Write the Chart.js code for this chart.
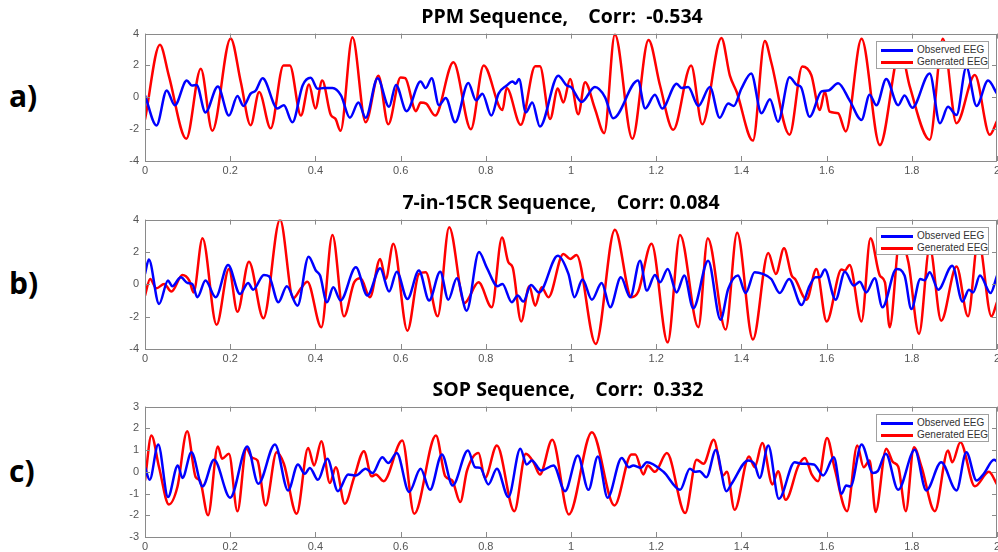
<!DOCTYPE html>
<html>
<head>
<meta charset="utf-8">
<script src="https://cdn.jsdelivr.net/npm/chart.js@4.4.0/dist/chart.umd.min.js"></script>
<style>
  html, body { margin: 0; padding: 0; background: #fff; width: 998px; height: 552px; overflow: hidden; position: relative; }
  canvas { position: absolute; left: 100px; }
  .title { position: absolute; width: 400px; text-align: center; white-space: pre; font-family: "Open Sans", sans-serif; font-weight: bold; font-size: 19.5px; color: #000; line-height: 22px; }
  .panel { position: absolute; left: 9px; font-family: "Open Sans", sans-serif; font-weight: bold; font-size: 30px; line-height: 32px; color: #000; }
  .legend { position: absolute; left: 876px; width: 111px; height: 26px; background: #fff; border: 1px solid #a0a0a0; font-family: "Liberation Sans", Arial, sans-serif; font-size: 10px; color: #333; }
  .legend .row { position: absolute; left: 0; height: 12px; line-height: 12px; white-space: nowrap; }
  .legend .swatch { position: absolute; left: 4px; top: 5px; width: 32px; height: 3px; }
  .legend .txt { position: absolute; left: 40px; top: 0; }
</style>
</head>
<body>
<canvas id="ppm" width="930" height="160" style="top:21px"></canvas>
<canvas id="seven" width="930" height="162" style="top:207px"></canvas>
<canvas id="sop" width="930" height="163" style="top:394px"></canvas>
<script>
// x: seconds, y: amplitude; turning points of each trace
const ppmObserved = [[0,0.12],[0.027,-1.77],[0.051,0.43],[0.07,-0.5],[0.098,1.05],[0.11,0.74],[0.121,0.78],[0.142,-0.95],[0.171,0.68],[0.197,-1.15],[0.217,0.08],[0.231,-0.54],[0.248,0.23],[0.26,0.43],[0.276,1.2],[0.311,-0.7],[0.326,-0.5],[0.346,-1.57],[0.37,0.74],[0.389,1.22],[0.405,0.54],[0.42,0.58],[0.44,0.58],[0.46,0.12],[0.481,-1.28],[0.501,-0.33],[0.518,-1.28],[0.546,1.2],[0.573,-0.6],[0.589,0.78],[0.614,-0.87],[0.647,0.99],[0.659,0.58],[0.673,1.2],[0.69,-0.5],[0.706,-0.04],[0.728,-1.57],[0.759,0.9],[0.777,-0.19],[0.792,0.23],[0.813,-1.15],[0.83,0.23],[0.849,0.74],[0.863,0.99],[0.87,0.85],[0.878,1.15],[0.894,-0.95],[0.909,-0.33],[0.927,-1.84],[0.97,1.36],[0.99,0.74],[1.0,0.64],[1.025,-0.29],[1.056,0.64],[1.08,0.0],[1.099,-1.32],[1.157,1.05],[1.174,-0.7],[1.197,0.16],[1.214,-0.7],[1.248,0.85],[1.26,0.58],[1.275,0.64],[1.299,-0.54],[1.326,0.64],[1.349,-1.28],[1.369,-0.39],[1.382,-0.54],[1.4,0.54],[1.423,1.5],[1.447,-1.0],[1.467,-0.12],[1.486,-1.53],[1.513,1.26],[1.53,0.78],[1.54,0.64],[1.56,-1.22],[1.588,0.37],[1.604,0.43],[1.627,0.89],[1.654,-0.19],[1.682,-1.42],[1.701,0.16],[1.717,-0.5],[1.74,1.15],[1.768,-0.5],[1.783,0.12],[1.801,-0.66],[1.842,1.5],[1.866,-1.63],[1.885,-0.6],[1.905,-1.11],[1.928,1.88],[1.952,-0.54],[1.979,1.05],[2.0,0.23]];
const ppmGenerated = [[0,-1.4],[0.035,3.3],[0.056,1.35],[0.097,-2.6],[0.131,1.8],[0.158,-2.1],[0.201,3.7],[0.225,0.95],[0.248,-1.75],[0.268,0.33],[0.295,-1.95],[0.325,2.0],[0.34,2.0],[0.366,-1.15],[0.385,0.8],[0.4,-0.7],[0.416,1.05],[0.436,-1.1],[0.447,-1.35],[0.459,-2.1],[0.487,3.77],[0.518,-1.57],[0.548,1.36],[0.571,-1.7],[0.6,1.25],[0.611,1.2],[0.636,-0.87],[0.647,-0.33],[0.66,-0.4],[0.681,-1.15],[0.724,2.2],[0.765,-2.0],[0.795,2.0],[0.839,-0.8],[0.849,0.58],[0.882,-1.73],[0.916,1.95],[0.927,1.95],[0.951,-1.36],[0.969,0.55],[0.982,-0.33],[0.998,1.15],[1.017,-1.07],[1.033,0.95],[1.056,-0.7],[1.078,-2.25],[1.103,3.94],[1.144,-2.6],[1.182,3.6],[1.209,0.74],[1.24,-2.04],[1.282,2.0],[1.308,-1.7],[1.353,3.73],[1.373,1.36],[1.389,0.33],[1.427,-2.72],[1.455,3.53],[1.47,2.2],[1.513,-2.35],[1.543,1.94],[1.564,1.4],[1.584,-0.8],[1.596,0.37],[1.607,-0.9],[1.627,-1.0],[1.645,-2.14],[1.682,3.67],[1.725,-3.0],[1.773,3.0],[1.795,0.7],[1.842,-2.66],[1.873,3.67],[1.905,-1.63],[1.948,1.4],[1.983,-2.35],[2.0,-1.5]];

const sevenObserved = [[0,0.64],[0.009,1.53],[0.033,-1.22],[0.054,0.23],[0.064,-0.12],[0.084,0.43],[0.1,0.08],[0.111,0.02],[0.123,-0.8],[0.142,0.23],[0.166,-0.8],[0.195,1.2],[0.223,-0.6],[0.242,0.08],[0.254,-0.33],[0.279,0.58],[0.291,0.5],[0.313,-1.11],[0.333,-0.12],[0.358,-1.32],[0.384,1.71],[0.401,0.85],[0.411,0.54],[0.427,-1.11],[0.442,-0.19],[0.459,-1.0],[0.495,1.05],[0.522,-0.7],[0.552,0.99],[0.573,-0.45],[0.591,0.78],[0.616,-0.91],[0.643,0.85],[0.667,-1.0],[0.693,0.78],[0.712,-0.95],[0.732,0.37],[0.755,-1.63],[0.784,2.0],[0.802,1.05],[0.828,-0.12],[0.839,0.02],[0.861,-1.11],[0.875,-0.7],[0.888,-1.07],[0.906,-0.04],[0.925,-0.5],[0.969,1.77],[0.994,0.64],[1.008,-0.8],[1.027,0.29],[1.049,-0.95],[1.072,0.08],[1.092,-1.42],[1.117,0.43],[1.139,-0.8],[1.162,1.46],[1.178,-0.39],[1.197,0.58],[1.209,0.12],[1.227,0.95],[1.248,-0.5],[1.266,0.54],[1.287,-1.48],[1.322,1.46],[1.351,-2.19],[1.369,-0.29],[1.392,0.54],[1.41,-0.54],[1.431,0.74],[1.45,0.64],[1.47,0.33],[1.49,-0.54],[1.512,0.33],[1.541,-1.28],[1.56,-0.1],[1.574,0.43],[1.584,0.43],[1.596,0.91],[1.621,-0.95],[1.643,0.78],[1.664,-0.08],[1.678,0.16],[1.693,-0.5],[1.713,0.37],[1.731,-1.42],[1.764,0.95],[1.783,0.54],[1.799,-1.53],[1.82,0.33],[1.83,0.25],[1.842,0.74],[1.862,-0.33],[1.895,1.15],[1.919,-1.07],[1.934,-0.33],[1.944,-0.5],[1.96,0.54],[1.985,-0.54],[2.0,0.54]];
const sevenGenerated = [[0,-0.7],[0.012,0.33],[0.027,-0.25],[0.045,0.02],[0.062,-0.45],[0.088,0.58],[0.104,0.23],[0.114,-0.5],[0.135,2.85],[0.168,-2.5],[0.197,0.95],[0.217,-1.7],[0.244,1.4],[0.278,-2.1],[0.317,4.0],[0.348,-0.87],[0.366,-0.25],[0.381,0.16],[0.414,-2.66],[0.44,3.05],[0.467,-1.98],[0.491,0.12],[0.506,0.37],[0.528,-0.8],[0.552,1.57],[0.565,0.33],[0.583,2.5],[0.616,-2.87],[0.643,0.64],[0.659,0.74],[0.687,-1.98],[0.714,3.53],[0.75,-1.15],[0.783,0.12],[0.814,-1.42],[0.838,2.9],[0.853,1.36],[0.863,1.05],[0.883,-2.3],[0.902,-0.12],[0.916,-1.32],[0.931,-0.19],[0.947,-0.8],[0.982,1.88],[0.998,1.57],[1.013,1.81],[1.058,-3.69],[1.103,3.38],[1.142,-0.8],[1.158,-0.45],[1.189,2.5],[1.227,-3.59],[1.256,3.05],[1.299,-2.66],[1.321,2.85],[1.363,-2.8],[1.39,3.18],[1.427,-3.42],[1.463,1.94],[1.481,0.64],[1.5,2.23],[1.518,0.54],[1.526,0.33],[1.553,-0.95],[1.576,0.95],[1.6,-2.3],[1.635,0.91],[1.643,0.85],[1.654,1.2],[1.682,-2.3],[1.703,2.85],[1.725,0.54],[1.737,0.12],[1.748,-2.66],[1.772,2.8],[1.792,1.36],[1.817,-3.07],[1.842,2.29],[1.869,-2.25],[1.905,1.1],[1.932,-1.98],[1.956,2.8],[1.987,-1.98],[2.0,-1.1]];

const sopObserved = [[0,0.21],[0.011,-0.37],[0.031,1.26],[0.054,-1.16],[0.077,0.29],[0.088,-0.28],[0.109,0.9],[0.135,-0.67],[0.162,0.55],[0.2,-1.19],[0.24,1.16],[0.266,-0.55],[0.305,1.26],[0.336,-0.86],[0.359,0.34],[0.375,-0.09],[0.387,0.18],[0.406,-0.37],[0.428,0.6],[0.453,-0.89],[0.477,-0.12],[0.495,-0.17],[0.518,0.14],[0.534,-0.06],[0.557,0.67],[0.571,0.4],[0.591,0.86],[0.62,-0.93],[0.647,0.14],[0.669,-0.83],[0.697,0.8],[0.722,-0.63],[0.758,0.98],[0.775,0.21],[0.787,0.18],[0.806,-0.58],[0.826,0.14],[0.853,-1.16],[0.881,1.06],[0.896,0.34],[0.908,0.52],[0.93,0.06],[0.959,0.29],[0.986,-0.89],[1.016,0.75],[1.041,-0.83],[1.063,0.7],[1.086,-1.19],[1.119,0.64],[1.136,0.21],[1.146,0.29],[1.164,0.18],[1.178,0.44],[1.217,0.0],[1.256,-0.83],[1.279,0.14],[1.291,0.0],[1.302,0.03],[1.318,-0.25],[1.34,1.0],[1.365,-0.89],[1.377,-0.55],[1.416,0.52],[1.431,0.34],[1.443,-0.28],[1.463,1.21],[1.488,-1.24],[1.525,0.44],[1.541,0.37],[1.57,0.34],[1.592,-0.17],[1.617,0.67],[1.635,-1.01],[1.646,-0.63],[1.656,-0.68],[1.682,1.26],[1.709,-0.06],[1.72,0.03],[1.739,0.83],[1.768,-0.83],[1.807,1.01],[1.834,-0.86],[1.869,0.44],[1.905,-0.86],[1.928,0.9],[1.952,-0.4],[1.968,-0.12],[1.993,0.55],[2.0,0.48]];
const sopGenerated = [[0,-0.4],[0.015,1.67],[0.033,0.21],[0.056,-1.5],[0.076,-0.7],[0.099,1.87],[0.119,-0.25],[0.129,-0.4],[0.148,-2.0],[0.171,1.16],[0.181,0.6],[0.197,0.83],[0.217,-1.82],[0.238,1.06],[0.252,0.64],[0.264,0.52],[0.283,-1.55],[0.309,0.9],[0.326,0.37],[0.356,-1.93],[0.383,1.1],[0.397,0.29],[0.414,1.41],[0.434,-0.52],[0.448,0.21],[0.469,-1.47],[0.491,-0.25],[0.514,0.95],[0.532,-0.21],[0.542,-0.12],[0.56,-0.43],[0.604,1.44],[0.632,-1.93],[0.683,1.67],[0.705,-0.21],[0.721,-0.4],[0.74,-1.39],[0.756,0.06],[0.783,0.86],[0.798,-0.28],[0.826,1.21],[0.867,-1.81],[0.894,0.83],[0.912,0.44],[0.927,-0.12],[0.956,1.47],[0.995,-1.96],[1.049,1.82],[1.102,-1.55],[1.142,0.8],[1.151,0.8],[1.17,-0.12],[1.18,0.29],[1.197,0.0],[1.225,0.86],[1.268,-1.9],[1.295,0.55],[1.311,0.37],[1.335,1.47],[1.357,-0.17],[1.366,0.0],[1.384,-1.75],[1.418,0.7],[1.431,0.21],[1.449,1.32],[1.473,-0.58],[1.486,0.03],[1.504,-1.29],[1.534,0.29],[1.549,0.64],[1.565,-0.12],[1.58,-0.43],[1.601,1.56],[1.619,0.14],[1.648,-1.81],[1.672,1.21],[1.687,0.21],[1.701,0.52],[1.715,-1.85],[1.74,1.06],[1.756,0.44],[1.768,0.24],[1.786,-1.81],[1.805,1.13],[1.823,0.21],[1.854,-1.81],[1.885,0.98],[1.895,0.44],[1.914,1.36],[1.948,-0.67],[1.981,0.0],[2.0,-0.58]];

const seriesNames = ['Observed EEG', 'Generated EEG'];
const seriesColors = ['#0000ff', '#ff0000'];
const panelLetters = ['a)', 'b)', 'c)'];
const panelTitles = ['PPM Sequence,    Corr:  -0.534', '7-in-15CR Sequence,    Corr: 0.084', 'SOP Sequence,    Corr:  0.332'];

const AXIS_GRAY = '#8a8a8a';
const TICK_LEN = 5;

// MATLAB-like axes: full box with tick marks pointing inwards on all four sides
const boxAxes = {
    id: 'boxAxes',
    afterDatasetsDraw(chart) {
        const { ctx, chartArea: a, scales } = chart;
        ctx.save();
        ctx.strokeStyle = AXIS_GRAY;
        ctx.lineWidth = 1;
        ctx.beginPath();
        scales.x.ticks.forEach((t) => {
            const px = Math.round(scales.x.getPixelForValue(t.value)) + 0.5;
            ctx.moveTo(px, a.bottom); ctx.lineTo(px, a.bottom - TICK_LEN);
            ctx.moveTo(px, a.top); ctx.lineTo(px, a.top + TICK_LEN);
        });
        scales.y.ticks.forEach((t) => {
            const py = Math.round(scales.y.getPixelForValue(t.value)) + 0.5;
            ctx.moveTo(a.left, py); ctx.lineTo(a.left + TICK_LEN, py);
            ctx.moveTo(a.right, py); ctx.lineTo(a.right - TICK_LEN, py);
        });
        ctx.stroke();
        ctx.strokeRect(Math.round(a.left) + 0.5, Math.round(a.top) + 0.5,
            Math.round(a.right - a.left) - 1, Math.round(a.bottom - a.top));
        ctx.restore();
    },
};

function toPoints(pairs) {
    return pairs.map(([x, y]) => ({ x, y }));
}

function createEegChart(canvasId, observed, generated, yLim, yStep) {
    const tickFont = { family: '"Liberation Sans", Arial, sans-serif', size: 11 };
    return new Chart(document.getElementById(canvasId), {
        type: 'line',
        data: {
            datasets: [observed, generated].map((pairs, i) => ({
                label: seriesNames[i],
                data: toPoints(pairs),
                borderColor: seriesColors[i],
                backgroundColor: seriesColors[i],
                borderWidth: 2.5,
                pointRadius: 0,
                cubicInterpolationMode: 'monotone',
                fill: false,
            })),
        },
        options: {
            responsive: false,
            animation: false,
            events: [],
            layout: { padding: { top: 12, right: 33, left: 0, bottom: 0 } },
            scales: {
                x: {
                    type: 'linear',
                    min: 0,
                    max: 2,
                    grid: { display: false, drawTicks: false },
                    border: { display: false },
                    ticks: {
                        stepSize: 0.2,
                        padding: 3,
                        color: '#555',
                        font: tickFont,
                        maxRotation: 0,
                        callback: (v) => String(Number(v.toFixed(1))),
                    },
                    afterFit: (s) => { s.height = 20; },
                },
                y: {
                    min: -yLim,
                    max: yLim,
                    grid: { display: false, drawTicks: false },
                    border: { display: false },
                    ticks: { stepSize: yStep, padding: 6, color: '#555', font: tickFont },
                    afterFit: (s) => { s.width = 45; },
                },
            },
            plugins: {
                legend: { display: false },
                tooltip: { enabled: false },
            },
        },
        plugins: [boxAxes],
    });
}

const charts = [
    createEegChart('ppm', ppmObserved, ppmGenerated, 4, 2),
    createEegChart('seven', sevenObserved, sevenGenerated, 4, 2),
    createEegChart('sop', sopObserved, sopGenerated, 3, 1),
];

// titles, panel letters and boxed legends laid over each plot
const titleCenters = [562, 561, 568];
charts.forEach((chart, i) => {
    const canvasTop = chart.canvas.offsetTop;
    const area = chart.chartArea;

    const title = document.createElement('div');
    title.className = 'title';
    title.textContent = panelTitles[i];
    title.style.left = (titleCenters[i] - 200) + 'px';
    title.style.top = (canvasTop + area.top - 29) + 'px';
    document.body.appendChild(title);

    const letter = document.createElement('div');
    letter.className = 'panel';
    letter.textContent = panelLetters[i];
    letter.style.top = (canvasTop + (area.top + area.bottom) / 2 - 17) + 'px';
    document.body.appendChild(letter);

    const legend = document.createElement('div');
    legend.className = 'legend';
    legend.style.top = (canvasTop + area.top + 7) + 'px';
    chart.data.datasets.forEach((ds, j) => {
        const row = document.createElement('div');
        row.className = 'row';
        row.style.top = (2 + j * 12) + 'px';
        const sw = document.createElement('span');
        sw.className = 'swatch';
        sw.style.background = ds.borderColor;
        const txt = document.createElement('span');
        txt.className = 'txt';
        txt.textContent = ds.label;
        row.appendChild(sw);
        row.appendChild(txt);
        legend.appendChild(row);
    });
    document.body.appendChild(legend);
});
</script>
</body>
</html>
